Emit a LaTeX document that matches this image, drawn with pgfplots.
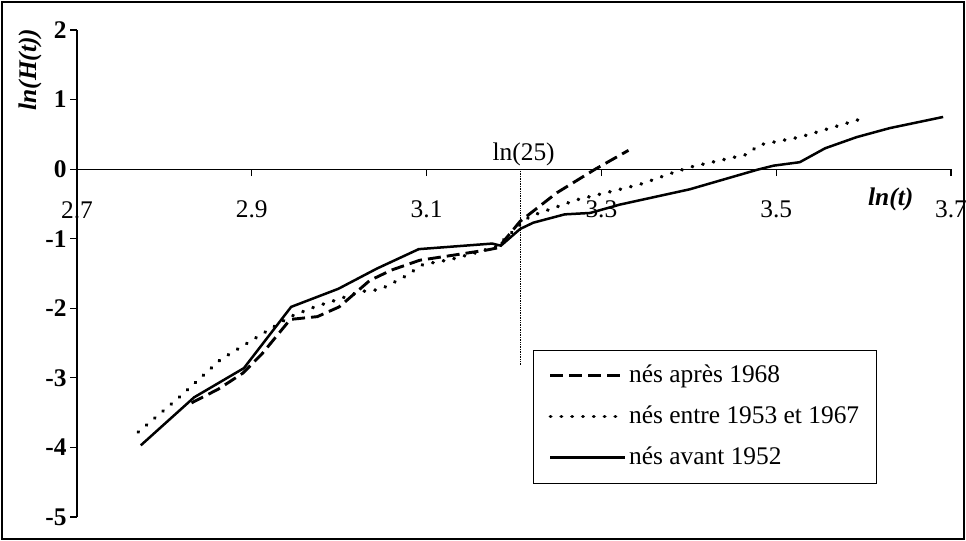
\documentclass[border=0pt]{standalone}
\usepackage{fontspec}
\setmainfont{Liberation Serif}
\usepackage{pgfplots}
\pgfplotsset{compat=1.18}

\begin{document}
\begin{tikzpicture}[font=\fontsize{25.5}{30}\selectfont]
\begin{axis}[name=ax,
  scale only axis, width=874bp, height=487bp,
  xmin=2.7, xmax=3.7, ymin=-5, ymax=2,
  axis x line=middle, axis y line=left,
  axis line style={-, line width=1.2bp, black},
  xtick={2.7,2.9,3.1,3.3,3.5,3.7},
  ytick={-5,-4,-3,-2,-1,0,1,2},
  tick style={black, line width=1.2bp},
  major tick length=7bp,
  tick align=outside,
  /pgf/number format/assume math mode=true,
  xticklabel style={/pgf/number format/.cd, fixed, fixed zerofill, precision=1, /tikz/.cd, yshift=-21bp},
  yticklabel style={font=\fontsize{25.5}{30}\selectfont\bfseries},
  clip=false,
  legend cell align=left,
  legend style={at={(axis cs:3.2217,-2.593)}, anchor=north west, draw=black, line width=1.2bp,
    inner xsep=15bp, inner ysep=12bp, row sep=14bp,
    nodes={inner sep=2bp, text height=18bp, text depth=5bp, anchor=west},
    font=\fontsize{25.5}{30}\selectfont},
  legend image code/.code={\draw[#1] (0bp,0bp) -- (75bp,0bp);},
]
\addplot[black, line width=2.9bp, dash pattern=on 13bp off 6bp] coordinates {
(2.831,-3.36) (2.862,-3.16) (2.890,-2.93) (2.912,-2.65) (2.944,-2.16) (2.975,-2.12)
(3.000,-1.98) (3.035,-1.60) (3.060,-1.45) (3.092,-1.31) (3.134,-1.23) (3.170,-1.16)
(3.182,-1.13) (3.207,-0.75) (3.249,-0.34) (3.293,0.0) (3.331,0.27)};
\addlegendentry{nés après 1968}
\addplot[black, line width=3.6bp, line cap=round, dash pattern=on 0.4bp off 10.4bp] coordinates {
(2.770,-3.78) (2.816,-3.29) (2.864,-2.74) (2.913,-2.36) (2.944,-2.12) (2.974,-1.97)
(2.997,-1.88) (3.024,-1.76) (3.047,-1.73) (3.073,-1.56) (3.096,-1.37) (3.127,-1.30)
(3.157,-1.20) (3.180,-1.11) (3.207,-0.80) (3.218,-0.68) (3.272,-0.44) (3.318,-0.30)
(3.344,-0.22) (3.382,-0.05) (3.405,0.04) (3.466,0.21) (3.481,0.35) (3.527,0.46)
(3.562,0.59) (3.602,0.74)};
\addlegendentry{nés entre 1953 et 1967}
\addplot[black, line width=2.5bp] coordinates {
(2.773,-3.97) (2.834,-3.28) (2.891,-2.86) (2.945,-1.98) (2.999,-1.72) (3.043,-1.43)
(3.091,-1.15) (3.175,-1.07) (3.185,-1.10) (3.207,-0.86) (3.222,-0.77) (3.258,-0.65)
(3.287,-0.63) (3.321,-0.51) (3.401,-0.29) (3.478,-0.01) (3.497,0.05) (3.527,0.10)
(3.556,0.30) (3.592,0.46) (3.630,0.59) (3.691,0.75)};
\addlegendentry{nés avant 1952}
\addplot[black, line width=0.7bp, densely dotted, forget plot] coordinates {(3.207,0) (3.207,-2.81)};
\node at (axis cs:3.211,0.21) {ln(25)};
\node[font=\fontsize{25.5}{30}\selectfont\bfseries\itshape] at (axis cs:3.631,-0.44) {ln(t)};
\node at ([yshift=-41bp]axis cs:2.7,0) {2.7};
\node[rotate=90, font=\fontsize{25.5}{30}\selectfont\bfseries\itshape] at ([xshift=-47bp]axis cs:2.7,1.43) {ln(H(t))};
\end{axis}
\draw[line width=1.5bp] ([shift={(-75bp,-22bp)}]ax.south west) rectangle ([shift={(13bp,28bp)}]ax.north east);
\pgfresetboundingbox
\path[use as bounding box] ([shift={(-77bp,-24bp)}]ax.south west) rectangle ([shift={(15bp,30bp)}]ax.north east);
\end{tikzpicture}
\end{document}
